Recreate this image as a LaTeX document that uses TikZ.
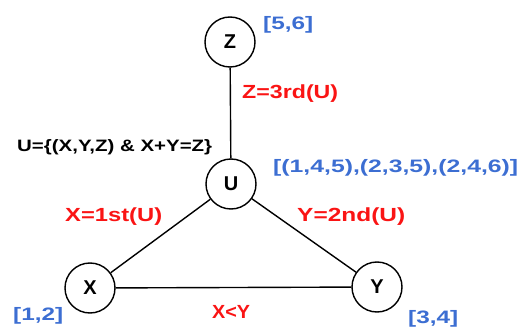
\documentclass[tikz,border=0pt]{standalone}
\usepackage{fontspec}
\setmainfont{Liberation Sans}
\usepackage{graphicx}
\definecolor{lblred}{RGB}{250,20,20}
\definecolor{lblblue}{RGB}{60,110,210}
\newcommand{\fw}[2]{\resizebox{#1}{\height}{#2}}
\tikzset{
  var/.style={circle, draw=black, line width=1.4pt, minimum size=50pt, inner sep=0pt,
    font=\fontsize{20}{22}\selectfont\bfseries},
  edge/.style={line width=1.4pt},
  cons/.style={anchor=base west, inner sep=0pt, text=lblred, font=\fontsize{19}{21}\selectfont\bfseries},
  dom/.style={anchor=base west, inner sep=0pt, text=lblblue, font=\fontsize{18}{20}\selectfont\bfseries},
  note/.style={anchor=base west, inner sep=0pt, text=black, font=\fontsize{16.5}{19}\selectfont\bfseries}
}
\begin{document}
\begin{tikzpicture}[x=1pt,y=-1pt]
\useasboundingbox (0,0) rectangle (523,329);
\node[var] (Z) at (230,42) {Z};
\node[var] (U) at (231,184) {U};
\node[var] (X) at (90,288) {X};
\node[var] (Y) at (377,287) {Y};
\draw[edge] (Z) -- (U);
\draw[edge] (U) -- (X);
\draw[edge] (U) -- (Y);
\draw[edge] (X) -- (Y);
\node[dom] (dz) at (263,30) {\fw{50pt}{[5,6]}};
\node[cons] (cz) at (242,99) {\fw{96pt}{Z=3rd(U)}};
\node[note] (nu) at (17,152) {\fw{195pt}{U=\{(X,Y,Z) \& X+Y=Z\}}};
\node[dom] (du) at (273,172) {\fw{245pt}{[(1,4,5),(2,3,5),(2,4,6)]}};
\node[cons] (cx) at (65,222) {\fw{97pt}{X=1st(U)}};
\node[cons] (cy) at (297,222) {\fw{108pt}{Y=2nd(U)}};
\node[cons] (cxy) at (212,318) {\fw{38pt}{X<Y}};
\node[dom] (dx) at (13,320) {\fw{50pt}{[1,2]}};
\node[dom] (dy) at (408,323) {\fw{50pt}{[3,4]}};
\end{tikzpicture}
\end{document}
